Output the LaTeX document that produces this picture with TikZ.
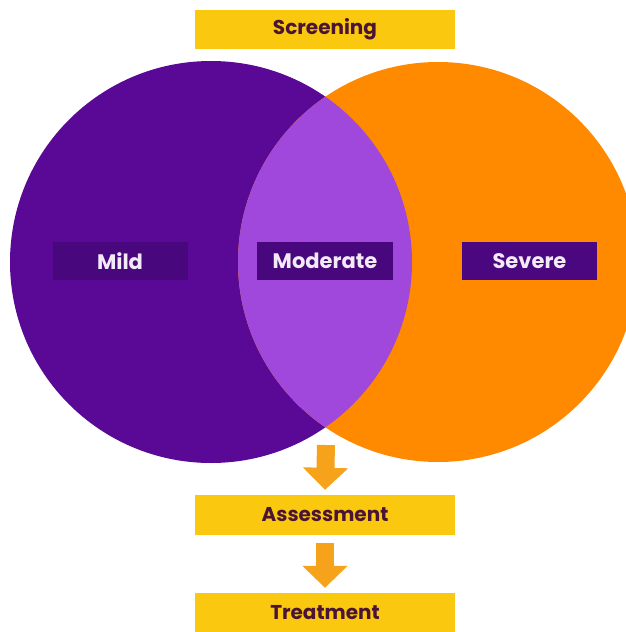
\documentclass[tikz,border=0pt]{standalone}
\usepackage{fontspec}
\setmainfont{Poppins}
\usetikzlibrary{arrows.meta}
\definecolor{purpleC}{HTML}{5A0896}
\definecolor{lensC}{HTML}{A048DC}
\definecolor{orangeC}{HTML}{FF8A00}
\definecolor{labelC}{HTML}{48077C}
\definecolor{yellowC}{HTML}{FAC80F}
\definecolor{stepTxt}{HTML}{4A1535}
\definecolor{arrowC}{HTML}{F7A21B}
\definecolor{labelTxt}{HTML}{F3EAF8}
\tikzset{
  stagebox/.style={fill=yellowC, minimum width=260pt, minimum height=39pt, inner sep=0pt,
    text=stepTxt, font=\bfseries\fontsize{20}{22}\selectfont},
  levelbox/.style={fill=labelC, minimum width=135pt, minimum height=38pt, inner sep=0pt,
    text=labelTxt, font=\bfseries\fontsize{21}{23}\selectfont},
  flowarrow/.style={draw=arrowC, line width=18pt, -{Triangle[width=44pt,length=22pt]}}
}
\begin{document}
\begin{tikzpicture}[x=1pt,y=-1pt]
\useasboundingbox (0,0) rectangle (626,632);
\clip (0,0) rectangle (626,632);
\fill[white] (0,0) rectangle (626,632);
% circles
\fill[purpleC] (211,262) circle[radius=201];
\fill[orangeC] (438,262) circle[radius=200];
\begin{scope}
  \clip (211,262) circle[radius=201];
  \fill[lensC] (438,262) circle[radius=200];
\end{scope}
% labels
\node[levelbox] (mild) at (120,261) {Mild};
\node[levelbox, minimum width=136pt] (moderate) at (325,261) {Moderate};
\node[levelbox, fill=labelC!88!purpleC] (severe) at (529.5,261) {Severe};
% stages
\node[stagebox] (screen) at (325,29) {Screening};
\node[stagebox, minimum height=40pt] (assess) at (325,515) {Assessment};
\node[stagebox, minimum height=40pt] (treat) at (325,613) {Treatment};
% arrows
\coordinate (a1) at (326,445);
\draw[flowarrow] (a1) -- ([yshift=5pt]assess.north);
\draw[flowarrow] ([yshift=-8pt]assess.south) -- ([yshift=5pt]treat.north);
\end{tikzpicture}
\end{document}
